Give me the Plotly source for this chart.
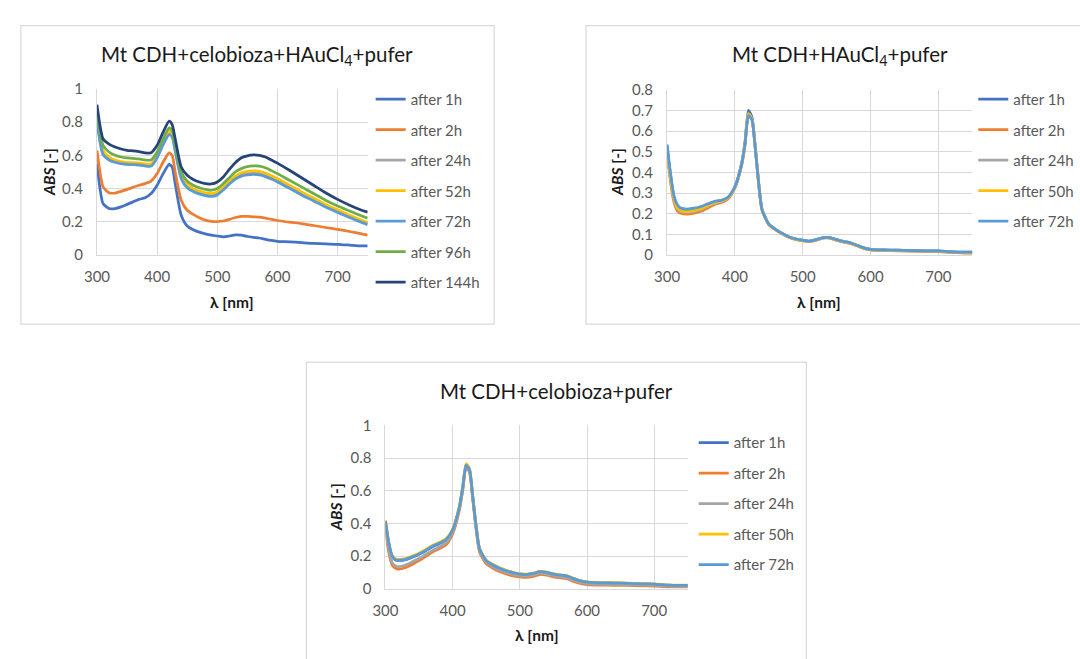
import plotly.graph_objects as go

# ---------------- data ----------------
P1_WL = [300, 305, 310, 320, 330, 340, 350, 360, 370, 380, 390, 400, 410, 420, 425, 430, 440, 450,
         460, 470, 480, 490, 500, 510, 520, 530, 540, 550, 560, 570, 580, 590, 600, 620, 640, 660,
         680, 700, 720, 740, 750]
P1_NAMES = ["after 1h", "after 2h", "after 24h", "after 52h", "after 72h", "after 96h", "after 144h"]
P1_H1 = [0.55, 0.40, 0.31, 0.28, 0.28, 0.29, 0.305, 0.32, 0.335, 0.345, 0.37, 0.42, 0.49, 0.545, 0.53,
         0.43, 0.24, 0.175, 0.152, 0.138, 0.128, 0.12, 0.115, 0.11, 0.115, 0.122, 0.12, 0.112, 0.107,
         0.103, 0.095, 0.088, 0.083, 0.08, 0.075, 0.07, 0.067, 0.065, 0.06, 0.055, 0.055]
P1_H2 = [0.63, 0.50, 0.41, 0.375, 0.373, 0.383, 0.395, 0.408, 0.42, 0.43, 0.445, 0.49, 0.56, 0.615, 0.60,
         0.50, 0.33, 0.27, 0.245, 0.225, 0.21, 0.203, 0.202, 0.205, 0.215, 0.226, 0.233, 0.233, 0.23,
         0.228, 0.222, 0.215, 0.208, 0.198, 0.19, 0.178, 0.166, 0.155, 0.142, 0.128, 0.12]
P1_H24 = [0.82, 0.69, 0.61, 0.575, 0.56, 0.55, 0.547, 0.545, 0.543, 0.538, 0.538, 0.59, 0.67, 0.735, 0.72,
          0.635, 0.47, 0.415, 0.39, 0.375, 0.365, 0.36, 0.37, 0.40, 0.435, 0.465, 0.483, 0.49, 0.493,
          0.49, 0.48, 0.465, 0.448, 0.41, 0.37, 0.333, 0.296, 0.264, 0.233, 0.205, 0.19]
P1_H52 = [0.83, 0.71, 0.63, 0.59, 0.572, 0.563, 0.558, 0.556, 0.553, 0.548, 0.548, 0.60, 0.68, 0.745, 0.73,
          0.645, 0.48, 0.425, 0.40, 0.385, 0.375, 0.37, 0.38, 0.41, 0.445, 0.475, 0.495, 0.503, 0.506,
          0.503, 0.493, 0.477, 0.46, 0.42, 0.38, 0.343, 0.305, 0.272, 0.24, 0.21, 0.197]
P1_H72 = [0.80, 0.68, 0.605, 0.572, 0.558, 0.55, 0.546, 0.544, 0.542, 0.536, 0.535, 0.585, 0.665, 0.725,
          0.71, 0.625, 0.46, 0.405, 0.382, 0.368, 0.358, 0.353, 0.362, 0.392, 0.427, 0.457, 0.475,
          0.482, 0.485, 0.482, 0.472, 0.457, 0.44, 0.402, 0.362, 0.326, 0.289, 0.257, 0.226, 0.197, 0.183]
P1_H96 = [0.86, 0.74, 0.66, 0.62, 0.60, 0.59, 0.585, 0.582, 0.578, 0.572, 0.572, 0.62, 0.70, 0.765, 0.75,
          0.665, 0.50, 0.445, 0.42, 0.405, 0.395, 0.39, 0.40, 0.43, 0.465, 0.50, 0.52, 0.532, 0.536,
          0.535, 0.525, 0.508, 0.49, 0.45, 0.41, 0.37, 0.33, 0.295, 0.265, 0.235, 0.222]
P1_H144 = [0.905, 0.78, 0.70, 0.667, 0.65, 0.638, 0.63, 0.627, 0.622, 0.615, 0.615, 0.66, 0.74, 0.805,
           0.785, 0.70, 0.53, 0.48, 0.455, 0.44, 0.43, 0.428, 0.44, 0.47, 0.515, 0.555, 0.585, 0.597,
           0.603, 0.60, 0.59, 0.572, 0.553, 0.51, 0.465, 0.42, 0.375, 0.335, 0.30, 0.27, 0.258]

P23_WL = [300, 305, 310, 315, 320, 330, 340, 350, 360, 370, 380, 390, 400, 410, 415, 420, 425, 430, 435,
          440, 450, 460, 470, 480, 490, 500, 510, 520, 530, 540, 550, 560, 570, 580, 590, 600, 620, 640,
          660, 680, 700, 720, 740, 750]
P23_NAMES = ["after 1h", "after 2h", "after 24h", "after 50h", "after 72h"]

P2_H1 = [0.53, 0.39, 0.285, 0.238, 0.222, 0.217, 0.222, 0.231, 0.245, 0.258, 0.264, 0.279, 0.33, 0.445,
         0.55, 0.70, 0.67, 0.525, 0.35, 0.22, 0.15, 0.125, 0.105, 0.088, 0.078, 0.072, 0.068, 0.075, 0.085,
         0.085, 0.075, 0.066, 0.06, 0.048, 0.035, 0.028, 0.025, 0.024, 0.022, 0.021, 0.02, 0.016, 0.014, 0.014]
P2_H2 = [0.50, 0.36, 0.26, 0.215, 0.203, 0.198, 0.203, 0.212, 0.228, 0.245, 0.255, 0.272, 0.325, 0.435,
         0.535, 0.68, 0.66, 0.52, 0.35, 0.22, 0.148, 0.122, 0.102, 0.085, 0.075, 0.069, 0.065, 0.072, 0.082,
         0.082, 0.072, 0.063, 0.057, 0.045, 0.032, 0.025, 0.022, 0.021, 0.019, 0.018, 0.017, 0.013, 0.01, 0.01]
P2_H24 = [0.51, 0.37, 0.27, 0.223, 0.21, 0.205, 0.21, 0.22, 0.236, 0.25, 0.259, 0.275, 0.327, 0.438,
          0.538, 0.68, 0.66, 0.52, 0.35, 0.22, 0.149, 0.123, 0.103, 0.086, 0.076, 0.07, 0.066, 0.073, 0.083,
          0.083, 0.073, 0.064, 0.058, 0.046, 0.033, 0.026, 0.023, 0.022, 0.02, 0.019, 0.018, 0.014, 0.012, 0.012]
P2_H50 = [0.52, 0.38, 0.278, 0.23, 0.215, 0.21, 0.215, 0.224, 0.24, 0.254, 0.261, 0.277, 0.328, 0.44,
          0.54, 0.685, 0.66, 0.52, 0.35, 0.22, 0.15, 0.124, 0.104, 0.087, 0.077, 0.071, 0.067, 0.074, 0.084,
          0.084, 0.074, 0.065, 0.059, 0.047, 0.034, 0.027, 0.024, 0.023, 0.021, 0.02, 0.019, 0.015, 0.013, 0.013]
P2_H72 = [0.535, 0.40, 0.29, 0.245, 0.228, 0.223, 0.227, 0.235, 0.248, 0.26, 0.265, 0.28, 0.33, 0.44,
          0.54, 0.675, 0.655, 0.52, 0.35, 0.22, 0.15, 0.125, 0.105, 0.088, 0.078, 0.072, 0.068, 0.075, 0.085,
          0.085, 0.075, 0.066, 0.06, 0.048, 0.035, 0.028, 0.025, 0.024, 0.022, 0.021, 0.02, 0.016, 0.014, 0.014]

P3_H1 = [0.41, 0.275, 0.197, 0.176, 0.173, 0.178, 0.193, 0.211, 0.233, 0.257, 0.276, 0.298, 0.358, 0.50,
         0.62, 0.76, 0.73, 0.56, 0.38, 0.245, 0.172, 0.145, 0.125, 0.11, 0.098, 0.09, 0.087, 0.094, 0.105,
         0.10, 0.09, 0.083, 0.078, 0.062, 0.048, 0.04, 0.036, 0.035, 0.033, 0.03, 0.028, 0.022, 0.02, 0.02]
P3_H2 = [0.36, 0.22, 0.145, 0.125, 0.12, 0.13, 0.15, 0.172, 0.198, 0.225, 0.245, 0.268, 0.335, 0.48,
         0.60, 0.74, 0.715, 0.545, 0.36, 0.225, 0.152, 0.125, 0.105, 0.09, 0.078, 0.072, 0.069, 0.076, 0.087,
         0.083, 0.073, 0.066, 0.061, 0.045, 0.032, 0.025, 0.022, 0.021, 0.02, 0.018, 0.016, 0.012, 0.011, 0.011]
P3_H24 = [0.38, 0.24, 0.16, 0.14, 0.135, 0.145, 0.165, 0.185, 0.21, 0.235, 0.255, 0.28, 0.345, 0.49,
          0.61, 0.745, 0.72, 0.55, 0.37, 0.235, 0.162, 0.135, 0.115, 0.10, 0.088, 0.08, 0.077, 0.084, 0.095,
          0.09, 0.08, 0.073, 0.068, 0.052, 0.038, 0.03, 0.027, 0.026, 0.025, 0.023, 0.021, 0.016, 0.014, 0.014]
P3_H50 = [0.42, 0.285, 0.205, 0.183, 0.18, 0.185, 0.2, 0.218, 0.24, 0.265, 0.284, 0.305, 0.365, 0.505,
          0.625, 0.765, 0.735, 0.565, 0.385, 0.248, 0.175, 0.148, 0.128, 0.113, 0.1, 0.092, 0.089, 0.096,
          0.107, 0.102, 0.092, 0.085, 0.08, 0.064, 0.05, 0.042, 0.038, 0.037, 0.035, 0.032, 0.03, 0.024, 0.022, 0.022]
P3_H72 = [0.415, 0.28, 0.20, 0.178, 0.175, 0.18, 0.195, 0.213, 0.235, 0.26, 0.278, 0.30, 0.36, 0.50,
          0.62, 0.755, 0.73, 0.56, 0.38, 0.245, 0.172, 0.145, 0.125, 0.11, 0.098, 0.09, 0.087, 0.094, 0.105,
          0.10, 0.09, 0.083, 0.078, 0.062, 0.048, 0.04, 0.036, 0.035, 0.033, 0.03, 0.028, 0.022, 0.02, 0.02]

TITLES = ["Mt CDH+celobioza+HAuCl<sub>4</sub>+pufer", "Mt CDH+HAuCl<sub>4</sub>+pufer",
          "Mt CDH+celobioza+pufer"]
X_TITLE = "<b>λ [nm]</b>"
Y_TITLE = "<b><i>ABS</i> [-]</b>"
X_TICKS = [300, 400, 500, 600, 700]

# ---------------- style ----------------
W, H = 1080, 659
FONT = "Lato"
COL7 = ["#4472C4", "#ED7D31", "#A5A5A5", "#FFC000", "#5B9BD5", "#70AD47", "#264478"]
GRID = "#d9d9d9"
TICKC = "#595959"
TXT = "#1a1a1a"


def px(x):
    return x / W


def py(y):
    return 1 - y / H


fig = go.Figure()

panels = [
    dict(wl=P1_WL, names=P1_NAMES, ys=[P1_H1, P1_H2, P1_H24, P1_H52, P1_H72, P1_H96, P1_H144],
         box=(85, 359, 81, 252), yr=1.0, dy=0.2, leg=(362, 75), title=(247, 47),
         xt=(222, 300), yt=(37, 167)),
    dict(wl=P23_WL, names=P23_NAMES, ys=[P2_H1, P2_H2, P2_H24, P2_H50, P2_H72],
         box=(662, 971, 82, 252), yr=0.8, dy=0.1, leg=(972, 75), title=(837, 47),
         xt=(816, 300), yt=(612, 167)),
    dict(wl=P23_WL, names=P23_NAMES, ys=[P3_H1, P3_H2, P3_H24, P3_H50, P3_H72],
         box=(377, 683, 427, 595), yr=1.0, dy=0.2, leg=(689, 428), title=(550, 392),
         xt=(530, 643), yt=(327, 511)),
]

layout = dict(width=W, height=H, margin=dict(l=0, r=0, t=0, b=0),
              paper_bgcolor="white", plot_bgcolor="white",
              font=dict(family=FONT, color=TICKC, size=15), showlegend=True,
              shapes=[], annotations=[])

borders = [(8, 487, 16, 323), (580, 1090, 16, 323), (297, 803, 362, 670)]
for (x0, x1, y0, y1) in borders:
    layout["shapes"].append(dict(type="rect", xref="paper", yref="paper",
                                 x0=px(x0), x1=px(x1), y0=py(y1), y1=py(y0),
                                 line=dict(color=GRID, width=1.2), fillcolor="rgba(0,0,0,0)",
                                 layer="below"))

for i, p in enumerate(panels):
    k = "" if i == 0 else str(i + 1)
    legname = "legend" + k
    x0, x1, y0, y1 = p["box"]
    layout["xaxis" + k] = dict(domain=[px(x0), px(x1)], range=[300, 750], anchor="y" + k,
                               tickvals=X_TICKS, showgrid=True, gridcolor=GRID, gridwidth=1,
                               showline=True, linecolor=GRID, linewidth=1, zeroline=False,
                               ticks="", ticklabelstandoff=8,
                               tickfont=dict(family=FONT, size=15, color=TICKC), fixedrange=True)
    layout["yaxis" + k] = dict(domain=[py(y1), py(y0)], range=[0, p["yr"] + 1e-6], anchor="x" + k,
                               dtick=p["dy"], tick0=0, showgrid=True, gridcolor=GRID, gridwidth=1,
                               showline=True, linecolor=GRID, linewidth=1, zeroline=False,
                               ticks="", ticklabelstandoff=10,
                               tickfont=dict(family=FONT, size=15, color=TICKC), fixedrange=True)
    lx, ly = p["leg"]
    layout[legname] = dict(x=px(lx), y=py(ly), xanchor="left", yanchor="top",
                           bgcolor="rgba(0,0,0,0)", borderwidth=0,
                           font=dict(family=FONT, size=15, color=TICKC),
                           traceorder="grouped", tracegroupgap=8, itemwidth=30)
    tx, ty = p["title"]
    layout["annotations"].append(dict(text=TITLES[i], x=px(tx), y=py(ty), xref="paper", yref="paper",
                                      showarrow=False, xanchor="center", yanchor="middle",
                                      font=dict(family=FONT, size=20.5, color=TXT)))
    ax, ay = p["xt"]
    layout["annotations"].append(dict(text=X_TITLE, x=px(ax), y=py(ay), xref="paper", yref="paper",
                                      showarrow=False, xanchor="center", yanchor="middle",
                                      font=dict(family=FONT, size=15.5, color=TXT)))
    bx, by = p["yt"]
    layout["annotations"].append(dict(text=Y_TITLE, x=px(bx), y=py(by), xref="paper", yref="paper",
                                      showarrow=False, xanchor="center", yanchor="middle", textangle=-90,
                                      font=dict(family=FONT, size=15.5, color=TXT)))
    for j, (name, yv) in enumerate(zip(p["names"], p["ys"])):
        fig.add_trace(go.Scatter(x=p["wl"], y=yv, name=name, mode="lines",
                                 xaxis="x" + k, yaxis="y" + k, legend=legname,
                                 legendgroup=f"p{i}s{j}",
                                 line=dict(color=COL7[j], width=2.75, shape="spline", smoothing=0.6),
                                 hoverinfo="skip"))

fig.update_layout(**layout)
fig.write_html("out.html", config={"displayModeBar": False, "staticPlot": True},
               post_script="document.body.style.margin='0px';document.body.style.overflow='hidden';")
